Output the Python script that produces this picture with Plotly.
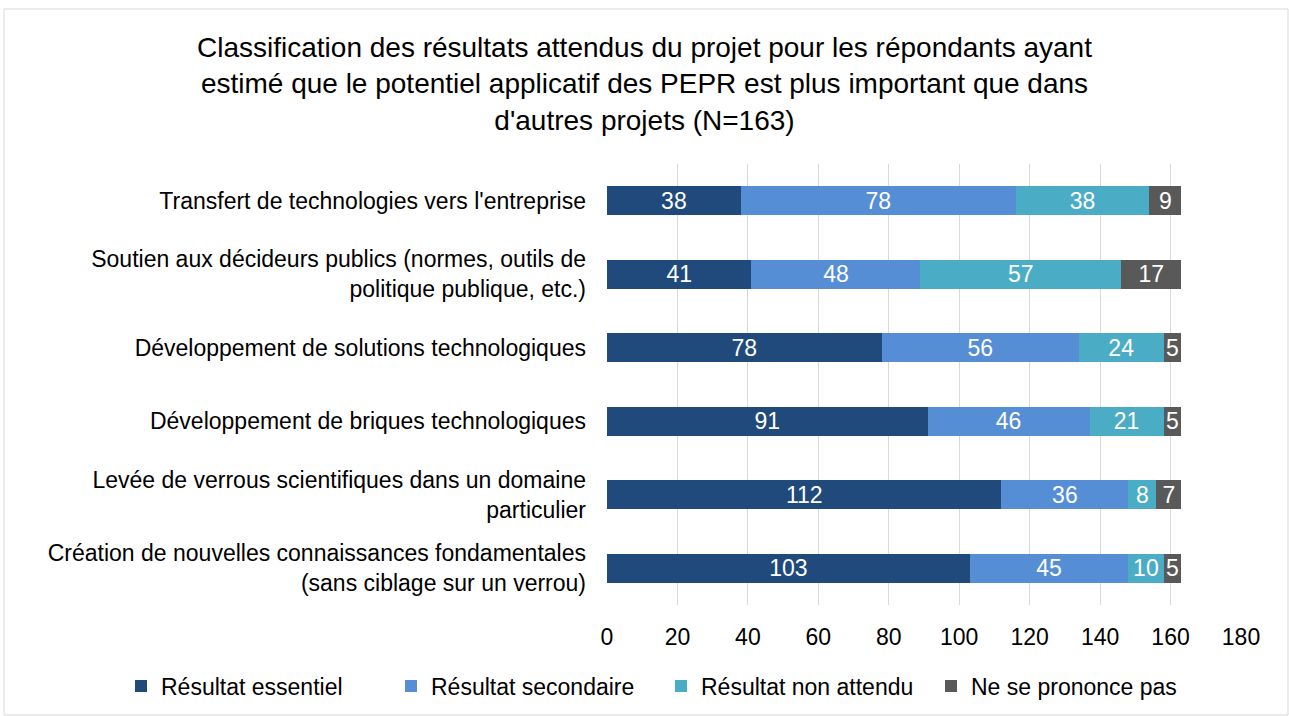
import plotly.graph_objects as go

categories = [
    "Transfert de technologies vers l'entreprise",
    "Soutien aux décideurs publics (normes, outils de<br>politique publique, etc.)",
    "Développement de solutions technologiques",
    "Développement de briques technologiques",
    "Levée de verrous scientifiques dans un domaine<br>particulier",
    "Création de nouvelles connaissances fondamentales<br>(sans ciblage sur un verrou)",
]
essentiel = [38, 41, 78, 91, 112, 103]
secondaire = [78, 48, 56, 46, 36, 45]
non_attendu = [38, 57, 24, 21, 8, 10]
ne_se_prononce = [9, 17, 5, 5, 7, 5]

series = [
    ("Résultat essentiel", essentiel, "#204A7C"),
    ("Résultat secondaire", secondaire, "#558ED5"),
    ("Résultat non attendu", non_attendu, "#4BACC6"),
    ("Ne se prononce pas", ne_se_prononce, "#595959"),
]

FONT = "Liberation Sans, Arial, sans-serif"
W, H = 1289, 716
L, R, T, B = 607, 48, 164, 111

fig = go.Figure()
for name, vals, color in series:
    fig.add_trace(go.Bar(
        y=categories, x=vals, name=name, orientation="h",
        marker=dict(color=color, line=dict(width=0)),
        text=[str(v) for v in vals], textposition="inside",
        insidetextanchor="middle", constraintext="none", textangle=0,
        textfont=dict(color="white", size=23, family=FONT),
        width=0.40, hoverinfo="x+name",
    ))

pw = W - L - R
ph = H - T - B
def px_x(p):
    return (p - L) / pw
def px_y(p):
    return (H - B - p) / ph

fig.add_shape(type="rect", xref="paper", yref="paper",
              x0=px_x(4), x1=px_x(1288), y0=px_y(9), y1=px_y(715),
              line=dict(color="#D9D9D9", width=1), fillcolor="rgba(0,0,0,0)", layer="below")

fig.update_layout(
    barmode="stack",
    width=W, height=H,
    margin=dict(l=L, r=R, t=T, b=B, autoexpand=False),
    paper_bgcolor="white", plot_bgcolor="white",
    font=dict(family=FONT, size=23, color="#000000"),
    title=dict(
        text="Classification des résultats attendus du projet pour les répondants ayant<br>"
             "estimé que le potentiel applicatif des PEPR est plus important que dans<br>"
             "d'autres projets (N=163)",
        x=0.5, xref="container", xanchor="center", y=1 - 57 / H, yanchor="middle",
        yref="container",
        font=dict(size=28, family=FONT, color="#000000"),
    ),
    xaxis=dict(range=[0, 180], dtick=20, showgrid=True, gridcolor="#D9D9D9", gridwidth=1,
               zeroline=False, showline=False, ticks="", tickfont=dict(size=23),
               ticklabelstandoff=16, fixedrange=True, automargin=False),
    yaxis=dict(autorange="reversed", showgrid=False, showline=False, ticks="",
               ticklabelstandoff=20, tickfont=dict(size=23), fixedrange=True,
               automargin=False),
    legend=dict(orientation="h", x=px_x(121), xref="paper", xanchor="left",
                y=px_y(686), yref="paper", yanchor="middle",
                font=dict(size=23), traceorder="normal", entrywidth=225),
    showlegend=True,
)

fig.write_html("out.html", config={"displayModeBar": False},
               post_script="document.body.style.margin='0';")
